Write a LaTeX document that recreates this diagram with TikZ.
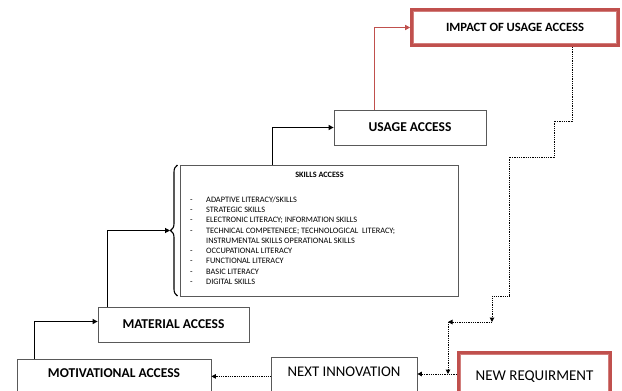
\documentclass[tikz,border=0pt]{standalone}
\usepackage{fontspec}
\setmainfont{Carlito}
\usetikzlibrary{arrows.meta,decorations.pathreplacing}
\definecolor{boxgray}{HTML}{595959}
\definecolor{accred}{HTML}{C0504D}
\definecolor{accredlight}{HTML}{D27E7C}
\newcommand{\skillitem}[1]{\makebox[16pt][l]{-}#1}

\begin{document}
\begin{tikzpicture}[x=1pt, y=-1pt,
    accbox/.style={draw=boxgray, line width=0.8pt, rectangle, inner sep=0pt, font=\bfseries\fontsize{13.5}{15}\selectfont},
    redbox/.style={draw=accred, line width=2.6pt, rectangle, inner sep=0pt, font=\fontsize{15}{17}\selectfont},
    stepline/.style={line width=1.1pt, -{Triangle[length=5pt,width=5pt]}},
    dotline/.style={line width=1pt, dash pattern=on 1pt off 0.8pt, -{Triangle[length=4.5pt,width=4.5pt]}}]
  \useasboundingbox (0,0) rectangle (622,391);

  \node[redbox, minimum width=207, minimum height=36.5, font=\bfseries\fontsize{12.6}{15}\selectfont] (impact) at (515,27.5) {IMPACT OF USAGE ACCESS};
  \node[accbox, minimum width=152, minimum height=35] (usage) at (410,127.5) {USAGE ACCESS};
  \node[accbox, minimum width=278, minimum height=131] (skills) at (319,230.5) {};
  \node[accbox, minimum width=151, minimum height=35] (material) at (173.5,324.5) {MATERIAL ACCESS};
  \node[accbox, anchor=north, minimum width=194, text height=18.5pt, text depth=19pt] (motiv) at (114,359) {MOTIVATIONAL ACCESS};
  \node[accbox, anchor=north, minimum width=146, text height=19pt, text depth=19pt, font=\fontsize{14.8}{16}\selectfont] (next) at (344,357) {NEXT INNOVATION};
  \node[redbox, anchor=north, minimum width=152, text height=28pt, text depth=25pt] (newreq) at (534.5,351.3) {NEW REQUIRMENT};

  % inner lines of the red boxes
  \draw[accredlight, line width=0.8pt] ([shift={(3.5pt,-3.5pt)}]impact.north west) rectangle ([shift={(-3.5pt,3.5pt)}]impact.south east);
  \draw[accredlight, line width=0.8pt] ([shift={(3.5pt,-3.5pt)}]newreq.north west) rectangle ([shift={(-3.5pt,3.5pt)}]newreq.south east);

  \node[font=\bfseries\fontsize{8.2}{10}\selectfont] (skillstitle) at (319.5,175) {SKILLS ACCESS};
  \node[anchor=north west, inner sep=0pt, align=left, font=\fontsize{8.3}{10.25}\selectfont] (skillslist) at (190,196.5) {%
    \skillitem{ADAPTIVE LITERACY/SKILLS}\\
    \skillitem{STRATEGIC SKILLS}\\
    \skillitem{ELECTRONIC LITERACY; INFORMATION SKILLS}\\
    \skillitem{TECHNICAL COMPETENECE; TECHNOLOGICAL\ \ LITERACY;}\\
    \hspace*{16pt}INSTRUMENTAL SKILLS OPERATIONAL SKILLS\\
    \skillitem{OCCUPATIONAL LITERACY}\\
    \skillitem{FUNCTIONAL LITERACY}\\
    \skillitem{BASIC LITERACY}\\
    \skillitem{DIGITAL SKILLS}};

  \coordinate (bracetip) at (170,230.5);
  \draw[line width=1.1pt, decorate, decoration={brace, amplitude=7pt}] (177.5,296) -- (177.5,165);

  \draw[stepline] ([xshift=18pt]motiv.north west) |- ([yshift=3pt]material.west);
  \draw[stepline] ([xshift=10pt]material.north west) |- (bracetip);
  \draw[stepline] ([xshift=93pt]skills.north west) |- (usage.west);
  \draw[stepline, accred, line width=1.3pt] ([xshift=41pt]usage.north west) |- (impact.west);

  % dotted way back down
  \coordinate (s1) at (572,121);
  \coordinate (s2) at (554,121);
  \coordinate (s3) at (554,157);
  \coordinate (s4) at (509,157);
  \coordinate (s5) at (509,296);
  \coordinate (s6) at (492,296);
  \coordinate (s7) at (492,322);
  \coordinate (s8) at (448,322);
  \coordinate (s9) at (448,374);
  \draw[dotline] (impact.south -| s1) -- (s1) -- (s2) -- (s3) -- (s4) -- (s5) -- (s6) -- (s7);
  \draw[dotline] (s7) -- (s8);
  \draw[dotline] (s8) -- (s9);
  \draw[dotline] (newreq.west |- s9) -- (next.east |- s9);
  \draw[dotline] (next.west) -- (next.west -| motiv.east);
\end{tikzpicture}
\end{document}
